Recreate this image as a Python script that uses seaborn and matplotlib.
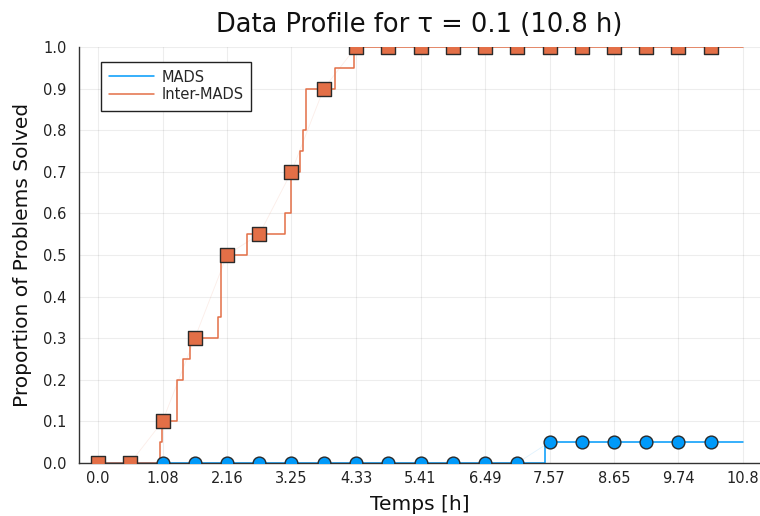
import matplotlib
matplotlib.use("Agg")
import matplotlib.pyplot as plt
import seaborn as sns

# ---- data ----
mads_step_x = [0.0, 7.49, 10.818]
mads_step_y = [0.0, 0.05, 0.05]
inter_step_x = [0.0, 1.04, 1.07, 1.32, 1.43, 1.54, 2.02, 2.06, 2.50, 3.14, 3.24,
                3.38, 3.43, 3.48, 3.97, 4.30, 10.818]
inter_step_y = [0.0, 0.05, 0.10, 0.20, 0.25, 0.30, 0.35, 0.50, 0.55, 0.60, 0.70,
                0.75, 0.80, 0.90, 0.95, 1.00, 1.00]
marker_x = [0.0, 0.541, 1.082, 1.623, 2.164, 2.705, 3.245, 3.786, 4.327, 4.868,
            5.409, 5.950, 6.491, 7.032, 7.573, 8.114, 8.654, 9.195, 9.736, 10.277]
mads_marker_y = [0, 0, 0, 0, 0, 0, 0, 0, 0, 0, 0, 0, 0, 0,
                 0.05, 0.05, 0.05, 0.05, 0.05, 0.05]
inter_marker_y = [0, 0, 0.1, 0.3, 0.5, 0.55, 0.7, 0.9, 1, 1, 1, 1, 1, 1,
                  1, 1, 1, 1, 1, 1]
x_ticks = [0.0, 1.082, 2.164, 3.245, 4.327, 5.409, 6.491, 7.573, 8.654, 9.736, 10.818]
x_tick_labels = ['0.0', '1.08', '2.16', '3.25', '4.33', '5.41', '6.49', '7.57',
                 '8.65', '9.74', '10.8']
y_ticks = [0.0, 0.1, 0.2, 0.3, 0.4, 0.5, 0.6, 0.7, 0.8, 0.9, 1.0]
y_tick_labels = ['0.0', '0.1', '0.2', '0.3', '0.4', '0.5', '0.6', '0.7', '0.8', '0.9', '1.0']
series_names = ['MADS', 'Inter-MADS']

BLUE = '#009AFA'
ORANGE = '#E36F47'

sns.set_theme(style='white')
plt.rcParams['font.family'] = ['DejaVu Sans']

fig = plt.figure(figsize=(7.6, 5.16), dpi=100)
ax = fig.add_axes([79 / 760, 53 / 516, 681 / 760, 416 / 516])

# step lines
sns.lineplot(x=mads_step_x, y=mads_step_y, drawstyle='steps-post', color=BLUE,
             lw=1.1, label=series_names[0], ax=ax, sort=False, estimator=None, zorder=2)
sns.lineplot(x=inter_step_x, y=inter_step_y, drawstyle='steps-post', color=ORANGE,
             lw=1.1, label=series_names[1], ax=ax, sort=False, estimator=None, zorder=2)

# faint connecting lines of marker series
sns.lineplot(x=marker_x, y=mads_marker_y, color=BLUE, lw=0.6, alpha=0.12, ax=ax,
             sort=False, estimator=None, legend=False, zorder=2)
sns.lineplot(x=marker_x, y=inter_marker_y, color=ORANGE, lw=0.6, alpha=0.12, ax=ax,
             sort=False, estimator=None, legend=False, zorder=2)

# markers
sns.scatterplot(x=marker_x, y=mads_marker_y, marker='o', s=9.2 ** 2, color=BLUE,
                edgecolor='#2a2a2a', linewidth=1.0, ax=ax, legend=False, zorder=3)
sns.scatterplot(x=marker_x, y=inter_marker_y, marker='s', s=10 ** 2, color=ORANGE,
                edgecolor='#2a2a2a', linewidth=1.0, ax=ax, legend=False, zorder=4)

ax.set_xlim(-0.319, 11.103)
ax.set_ylim(0, 1)
ax.set_xticks(x_ticks)
ax.set_xticklabels(x_tick_labels)
ax.set_yticks(y_ticks)
ax.set_yticklabels(y_tick_labels)

ax.grid(True, color='#000000', alpha=0.07, lw=0.8)
ax.set_axisbelow(True)
for s in ['top', 'right']:
    ax.spines[s].set_visible(False)
for s in ['left', 'bottom']:
    ax.spines[s].set_color('#333333')
    ax.spines[s].set_linewidth(1.0)
ax.tick_params(axis='both', direction='in', length=4, width=0.8, color='#333333',
               labelsize=10.5, labelcolor='#222222')
ax.tick_params(axis='x', pad=6)
ax.tick_params(axis='y', pad=9)

ax.set_xlabel('Temps [h]', fontsize=14.5, color='#111111', labelpad=6)
ax.set_ylabel('Proportion of Problems Solved', fontsize=14.5, color='#111111', labelpad=8)
ax.set_title('Data Profile for τ = 0.1 (10.8 h)', fontsize=18.5, color='#111111', pad=11)

leg = ax.legend(loc='upper left', bbox_to_anchor=(0.032, 0.965), borderaxespad=0,
                fontsize=10.5, frameon=True, fancybox=False, framealpha=1,
                edgecolor='#222222', handlelength=3.1, handletextpad=0.5,
                labelspacing=0.2, borderpad=0.55)
leg.get_frame().set_linewidth(1.0)

fig.savefig('out.png', dpi=100)
